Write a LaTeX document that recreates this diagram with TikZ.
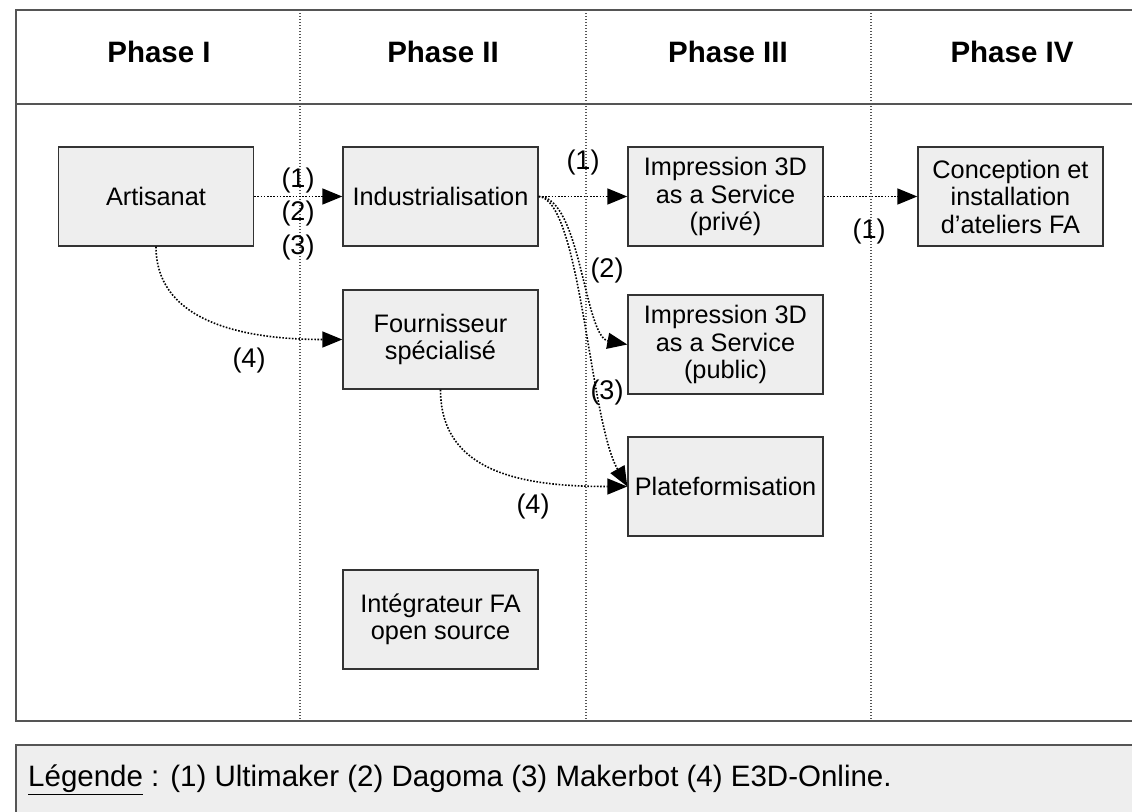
\documentclass[tikz,border=0pt]{standalone}
\usepackage{fontspec}
\setmainfont{Liberation Sans}
\usetikzlibrary{arrows.meta}
\definecolor{boxfill}{HTML}{EEEEEE}
\definecolor{framecol}{HTML}{555555}
\definecolor{boxline}{HTML}{333333}
\begin{document}
\begin{tikzpicture}[x=1pt,y=-1pt,
  box/.style={draw=boxline, line width=1.4pt, fill=boxfill, minimum width=195pt, minimum height=99pt, align=center, inner sep=0pt, font=\fontsize{25.3}{27.5}\selectfont},
  lbl/.style={font=\fontsize{27}{29}\selectfont, inner sep=0pt},
  phase/.style={font=\fontsize{29.5}{31}\selectfont\bfseries, inner sep=0pt},
  conn/.style={dash pattern=on 1.6pt off 1.6pt, line width=1.6pt, -{Triangle[length=20pt,width=16pt]}},
  divider/.style={dash pattern=on 1.3pt off 1.7pt, line width=1.3pt, draw=framecol}]
\useasboundingbox (0,0) rectangle (1132,811);
\clip (0,0) rectangle (1132,811);
% frame
\draw[framecol, line width=2pt] (16,10) rectangle (1170,721);
\draw[framecol, line width=2pt] (16,104) -- (1170,104);
\draw[divider] (300,10) -- (300,721);
\draw[divider] (586,10) -- (586,721);
\draw[divider] (871,10) -- (871,721);
% headers
\node[phase] (p1) at (159,52) {Phase I};
\node[phase] (p2) at (443,52) {Phase II};
\node[phase] (p3) at (728,52) {Phase III};
\node[phase] (p4) at (1012,52) {Phase IV};
% boxes
\node[box] (art) at (156,196.5) {Artisanat};
\node[box] (ind) at (440.5,196.5) {Industrialisation};
\node[box] (priv) at (725.5,196.5) {Impression 3D\\as a Service\\(privé)};
\node[box, minimum width=185pt] (conc) at (1010.5,196.5) {Conception et\\installation\\d'ateliers FA};
\node[box] (four) at (440.5,339.5) {Fournisseur\\spécialisé};
\node[box] (pub) at (725.5,344.5) {Impression 3D\\as a Service\\(public)};
\node[box] (plat) at (725.5,486.5) {Plateformisation};
\node[box] (integ) at (440.5,619.5) {Intégrateur FA\\open source};
% connectors
\draw[conn] (art.east) -- (ind.west);
\draw[conn] (ind.east) -- (priv.west);
\draw[conn] (priv.east) -- (conc.west);
\draw[conn] (ind.east) .. controls +(42,0) and +(-43,-8) .. (pub.west);
\draw[conn] (ind.east) .. controls +(42,3) and +(-38,-67) .. (plat.west);
\draw[conn] (art.south) .. controls +(0,70) and +(-110,0) .. (four.west);
\draw[conn] (four.south) .. controls +(0,85) and +(-100,0) .. (plat.west);
% labels
\node[lbl] (l1a) at (298,181) {(1)};
\node[lbl] (l2a) at (298,214) {(2)};
\node[lbl] (l3a) at (298,248) {(3)};
\node[lbl] (l1b) at (583,163) {(1)};
\node[lbl] (l1c) at (869,232) {(1)};
\node[lbl] (l2b) at (607,271) {(2)};
\node[lbl] (l3b) at (607,393) {(3)};
\node[lbl] (l4a) at (249,361) {(4)};
\node[lbl] (l4b) at (533,507) {(4)};
% legend
\draw[framecol, line width=2pt, fill=boxfill] (16,745) rectangle (1170,840);
\node[anchor=west, inner sep=0pt, font=\fontsize{29.5}{31}\selectfont] (leg) at (28,780) {\underline{Légende} : (1) Ultimaker (2) Dagoma (3) Makerbot (4) E3D-Online.};
\end{tikzpicture}
\end{document}
